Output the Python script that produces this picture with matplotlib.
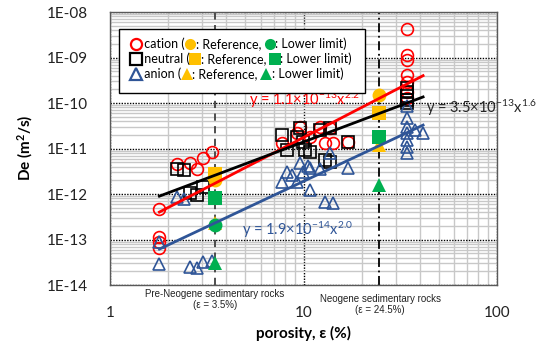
"""
Effective diffusivity De vs porosity for cation / neutral / anion tracers,
with power-law fits and reference / lower-limit values for two rock groups.
"""

import numpy as np
import matplotlib
matplotlib.use("Agg")
import matplotlib.pyplot as plt
from matplotlib.ticker import FixedLocator, FuncFormatter, NullFormatter

plt.rcParams["font.family"] = ["Lato", "DejaVu Sans"]
plt.rcParams["mathtext.default"] = "regular"

# ---- data (porosity %, De m2/s) ----
cation_x = [1.80, 1.80, 1.80, 1.80, 2.21, 2.59, 2.82, 3.02, 3.37,
            7.74, 9.59, 10.8, 12.2, 13.7, 12.9, 14.2, 17.0, 9.3,
            34.3, 34.3, 34.3, 34.3, 34.3, 34.3, 34.3]
cation_y = [4.6e-13, 1.15e-13, 9.0e-14, 6.4e-14, 4.6e-12, 4.7e-12, 3.55e-12, 6.1e-12, 8.4e-12,
            1.30e-11, 3.0e-11, 1.82e-11, 3.0e-11, 2.78e-11, 1.30e-11, 1.30e-11, 1.41e-11, 2.2e-11,
            4.2e-9, 1.14e-9, 8.8e-10, 4.1e-10, 2.9e-10, 1.77e-10, 1.3e-10]

neutral_x = [2.21, 2.41, 2.59, 2.82, 3.02,
             7.74, 8.19, 9.22, 9.59, 9.98, 10.2, 10.8, 12.2, 13.7, 12.9, 13.7, 17.0,
             34.3, 34.3, 34.3, 34.3, 34.3]
neutral_y = [3.55e-12, 3.37e-12, 1.04e-12, 9.5e-13, 1.45e-12,
             1.98e-11, 9.3e-12, 1.82e-11, 2.78e-11, 1.41e-11, 9.3e-12, 8.5e-12, 2.6e-11, 2.78e-11,
             5.6e-12, 5.1e-12, 1.41e-11,
             2.14e-10, 1.74e-10, 1.43e-10, 1.16e-10, 1.0e-10]

anion_x = [1.80, 1.80, 2.21, 2.41, 2.59, 2.82, 3.02, 3.37,
           7.74, 8.19, 8.69, 9.22, 9.59, 9.98, 10.6, 10.8, 12.2, 13.7, 17.0, 10.8, 12.9, 14.2,
           34.3, 34.3, 34.3, 34.3, 34.3, 34.3, 34.3, 37.7, 41.5]
anion_y = [2.9e-14, 9.0e-14, 8.7e-13, 7.8e-13, 2.5e-14, 2.37e-14, 3.25e-14, 3.4e-14,
           1.86e-12, 3.09e-12, 2.62e-12, 1.86e-12, 4.7e-12, 3.09e-12, 4.2e-12, 3.67e-12, 3.5e-12,
           7.85e-12, 3.67e-12, 1.22e-12, 6.8e-13, 6.25e-13,
           8.6e-11, 4.6e-11, 2.97e-11, 2.19e-11, 1.54e-11, 1.10e-11, 7.85e-12, 2.55e-11, 2.19e-11]

# reference (orange) and lower limit (green) values at eps = 3.5 % and 24.5 %
ref_circle_x, ref_circle_y = [3.5, 24.5], [2.03e-12, 1.5e-10]
ref_square_x, ref_square_y = [3.5, 24.5], [2.75e-12, 5.9e-11]
ref_tri_x, ref_tri_y = [3.5, 24.5], [2.3e-13, 1.19e-11]
low_circle_x, low_circle_y = [3.5], [2.08e-13]
low_square_x, low_square_y = [3.5, 24.5], [8.0e-13, 1.82e-11]
low_tri_x, low_tri_y = [3.5, 24.5], [3.0e-14, 1.58e-12]

# power-law fits De = a * eps^b
fit_range = [1.8, 41.5]
fit_cation = (1.1e-13, 2.2)
fit_neutral = (3.5e-13, 1.6)
fit_anion = (1.9e-14, 2.0)

RED = "#FF0000"
BLUE = "#2F5597"
ORANGE = "#FFC000"
GREEN = "#00B050"
W, H = 544, 347


def fx(px):
    return px / W


def fy(py):
    return 1 - py / H


fig = plt.figure(figsize=(W / 100, H / 100), dpi=100)
ax = fig.add_axes([fx(110), fy(285), (497 - 110) / W, (285 - 12) / H])
ax.set_xscale("log")
ax.set_yscale("log")
ax.set_xlim(1, 100)
ax.set_ylim(1e-14, 1e-8)

ax.yaxis.set_major_locator(FixedLocator([10.0 ** k for k in range(-14, -7)]))
ax.yaxis.set_major_formatter(FuncFormatter(lambda v, p: f"1E-{int(round(-np.log10(v))):02d}"))
ax.xaxis.set_major_formatter(FuncFormatter(lambda v, p: f"{v:g}"))
ax.xaxis.set_minor_formatter(NullFormatter())
ax.yaxis.set_minor_formatter(NullFormatter())
ax.tick_params(which="both", length=0, labelsize=11, colors="#222222")
ax.tick_params(axis="y", pad=16)
ax.tick_params(axis="x", pad=15)

ax.grid(which="minor", color="#C8C8C8", lw=1.0, ls="-", zorder=0)
ax.grid(which="major", color="black", lw=1.0, ls=(0, (1, 1)), zorder=0.5)
ax.set_axisbelow(True)
for s in ax.spines.values():
    s.set_color("#595959")
    s.set_linewidth(1.0)

# rock group markers
ax.axvline(3.5, color="#404040", ls=(0, (4, 3)), lw=1.3, zorder=1)
ax.axvline(24.5, color="black", ls=(0, (5, 2, 1, 2)), lw=1.3, zorder=1)

ms = 8.5
ax.plot(cation_x, cation_y, "o", mfc="none", mec=RED, mew=1.2, ms=ms, zorder=3)
ax.plot(neutral_x, neutral_y, "s", mfc="none", mec="black", mew=1.2, ms=ms - 0.5, zorder=3)
ax.plot(anion_x, anion_y, "^", mfc="none", mec=BLUE, mew=1.2, ms=ms, zorder=3)

fs = 10
ax.plot(ref_tri_x, ref_tri_y, "^", color=ORANGE, ms=fs, mew=0, zorder=3.2)
ax.plot(ref_circle_x, ref_circle_y, "o", color=ORANGE, ms=fs, mew=0, zorder=3.2)
ax.plot(ref_square_x, ref_square_y, "s", color=ORANGE, ms=fs - 0.5, mew=0, zorder=3.3)
ax.plot(low_circle_x, low_circle_y, "o", color=GREEN, ms=fs, mew=0, zorder=3.4)
ax.plot(low_square_x, low_square_y, "s", color=GREEN, ms=fs - 0.5, mew=0, zorder=3.4)
ax.plot(low_tri_x, low_tri_y, "^", color=GREEN, ms=fs, mew=0, zorder=3.4)

xx = np.array(fit_range)
for (a, b), c in [(fit_cation, RED), (fit_neutral, "black"), (fit_anion, BLUE)]:
    ax.plot(xx, a * xx ** b, color=c, lw=2, zorder=4)

# fit equations
eq = dict(fontsize=10.5, va="center", ha="left")
fig.text(fx(249), fy(100), r"y = 1.1$\times$10$^{-13}$x$^{2.2}$", color=RED, **eq)
fig.text(fx(426), fy(108), r"y = 3.5$\times$10$^{-13}$x$^{1.6}$", color="#262626", **eq)
fig.text(fx(242), fy(230), r"y = 1.9$\times$10$^{-14}$x$^{2.0}$", color=BLUE, **eq)

# axis labels and rock group notes
fig.text(fx(303), fy(333), "porosity, ε (%)", fontsize=11, fontweight="bold",
         ha="center", va="center")
fig.text(fx(25), fy(148), "De (m$^2$/s)", fontsize=11, fontweight="bold",
         rotation=90, ha="center", va="center")
note = dict(fontsize=7, ha="center", va="center", family=["Liberation Sans", "DejaVu Sans"],
            color="#222222")
fig.text(fx(215), fy(294), "Pre-Neogene sedimentary rocks", **note)
fig.text(fx(215), fy(305), "(ε = 3.5%)", **note)
fig.text(fx(380), fy(299), "Neogene sedimentary rocks", **note)
fig.text(fx(380), fy(310), "(ε = 24.5%)", **note)

# legend box with inline symbols
fig.patches.append(plt.Rectangle((fx(119), fy(93)), (365 - 119) / W, (93 - 29) / H,
                                 transform=fig.transFigure, facecolor="white",
                                 edgecolor="black", lw=1.0, zorder=5))
renderer = fig.canvas.get_renderer()


def legend_row(py, items):
    x = 130.0
    for it in items:
        if it[0] == "m":
            _, mk, col, filled = it
            fig.add_artist(plt.Line2D([fx(x + 5.5)], [fy(py)], marker=mk, ms=8,
                                      mfc=col if filled else "none", mec=col,
                                      mew=0 if filled else 1.6,
                                      transform=fig.transFigure, zorder=6))
            x += 11
        else:
            t = fig.text(fx(x), fy(py), it[1], fontsize=9, ha="left", va="center", zorder=6)
            x += t.get_window_extent(renderer).width


legend_row(44, [("m", "o", RED, False), ("t", " cation ("), ("m", "o", ORANGE, True),
                ("t", ": Reference, "), ("m", "o", GREEN, True), ("t", ": Lower limit)")])
legend_row(59, [("m", "s", "black", False), ("t", " neutral ("), ("m", "s", ORANGE, True),
                ("t", ": Reference, "), ("m", "s", GREEN, True), ("t", ": Lower limit)")])
legend_row(74, [("m", "^", BLUE, False), ("t", " anion ("), ("m", "^", ORANGE, True),
                ("t", ": Reference, "), ("m", "^", GREEN, True), ("t", ": Lower limit)")])

fig.savefig("out.png", dpi=100)
